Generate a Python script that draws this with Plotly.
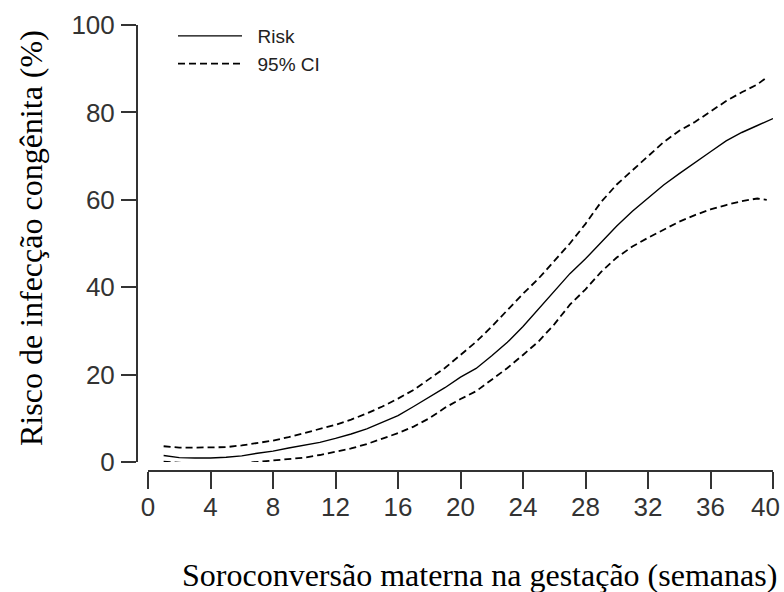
import plotly.graph_objects as go

# ---- data ----
weeks = list(range(1, 41))
risk = [1.5, 1.0, 0.9, 0.9, 1.1, 1.4, 2.0, 2.5, 3.2, 3.8,
        4.5, 5.4, 6.4, 7.6, 9.1, 10.6, 12.7, 14.8, 17.0, 19.4,
        21.4, 24.3, 27.4, 31.0, 35.1, 39.1, 43.1, 46.5, 50.3, 54.0,
        57.4, 60.5, 63.4, 66.0, 68.6, 71.0, 73.5, 75.4, 77.0, 78.6]

ci_weeks = list(range(1, 40)) + [39.6]
ci_upper = [3.6, 3.3, 3.3, 3.3, 3.4, 3.8, 4.3, 4.9, 5.7, 6.6,
            7.5, 8.5, 9.7, 11.1, 12.7, 14.5, 16.5, 19.0, 21.5, 24.5,
            27.5, 31.0, 34.8, 38.5, 42.0, 46.0, 50.0, 54.5, 59.5, 63.5,
            66.8, 70.0, 73.2, 75.8, 77.8, 80.2, 82.6, 84.6, 86.4, 88.0]
ci_lower = [0.1, -0.2, -0.4, -0.5, -0.5, -0.3, 0.0, 0.3, 0.6, 1.0,
            1.6, 2.3, 3.1, 4.1, 5.3, 6.6, 8.1, 10.0, 12.4, 14.4,
            16.2, 18.8, 21.5, 24.5, 27.6, 31.5, 36.0, 39.5, 43.5, 46.8,
            49.3, 51.3, 53.2, 55.0, 56.5, 57.8, 58.8, 59.7, 60.3, 60.0]

x_ticks = list(range(0, 41, 4))
x_tick_labels = [str(v) for v in x_ticks]
y_ticks = [0, 20, 40, 60, 80, 100]
y_tick_labels = [str(v) for v in y_ticks]

legend_risk = "Risk"
legend_ci = "95% CI"
x_title = "Soroconversão materna na gestação (semanas)"
y_title = "Risco de infecção congênita (%)"

# ---- layout geometry (targets in page pixels; body margin removed) ----
W, H = 784, 592
ML, MR, MT, MB = 50, 0, 4, 50
PW, PH = W - ML - MR, H - MT - MB

def px_x(sx):
    return (sx - ML) / PW

def px_y(sy):
    return (H - MB - sy) / PH

sans = "Liberation Sans, Arial, Helvetica, sans-serif"
serif = "Liberation Serif, Times New Roman, serif"
axis_col = "#333333"
tick_font = dict(family=sans, size=26, color="#333333")
NB = "\u00a0\u00a0"

fig = go.Figure()
fig.add_trace(go.Scatter(x=weeks, y=risk, mode="lines", name=NB + legend_risk,
                         line=dict(color="black", width=1.4)))
fig.add_trace(go.Scatter(x=ci_weeks, y=ci_upper, mode="lines", name=NB + legend_ci,
                         line=dict(color="black", width=1.8, dash="7px,4px")))
fig.add_trace(go.Scatter(x=ci_weeks, y=ci_lower, mode="lines", name=legend_ci,
                         showlegend=False,
                         line=dict(color="black", width=1.8, dash="7px,4px")))

fig.update_layout(
    width=W, height=H,
    margin=dict(l=ML, r=MR, t=MT, b=MB, autoexpand=False),
    paper_bgcolor="white", plot_bgcolor="white",
    showlegend=True,
    legend=dict(x=px_x(173), y=px_y(17), xanchor="left", yanchor="top",
                font=dict(family=sans, size=19, color="#222222"),
                itemwidth=64, bgcolor="rgba(0,0,0,0)", tracegroupgap=0),
    xaxis=dict(domain=[px_x(148), px_x(773)], range=[0, 40],
               anchor="free", position=px_y(471), automargin=False,
               tickvals=x_ticks, ticktext=x_tick_labels[:-1] + [""],
               ticks="outside", ticklen=17, tickwidth=2, tickcolor=axis_col,
               ticklabelstandoff=-4, ticklabeloverflow="allow",
               showline=True, linecolor=axis_col, linewidth=2,
               showgrid=False, zeroline=False, tickfont=tick_font),
    yaxis=dict(domain=[px_y(462), px_y(25)], range=[0, 100],
               anchor="free", position=px_x(137), automargin=False,
               tickvals=y_ticks, ticktext=y_tick_labels,
               ticks="outside", ticklen=15, tickwidth=2, tickcolor=axis_col,
               ticklabelstandoff=1, ticklabeloverflow="allow",
               showline=True, linecolor=axis_col, linewidth=2,
               showgrid=False, zeroline=False, tickfont=tick_font),
    annotations=[
        # last x tick label, nudged left of its tick as in the reference
        dict(text=x_tick_labels[-1], xref="x", yref="paper",
             x=x_ticks[-1], y=px_y(507), xanchor="center", yanchor="middle",
             xshift=-8, showarrow=False, font=tick_font),
        dict(text=x_title, xref="paper", yref="paper",
             x=px_x(479), y=px_y(575), xanchor="center", yanchor="middle",
             showarrow=False, font=dict(family=serif, size=32, color="black")),
        dict(text=y_title, xref="paper", yref="paper",
             x=px_x(31), y=px_y(238), xanchor="center", yanchor="middle",
             textangle=-90,
             showarrow=False, font=dict(family=serif, size=32, color="black")),
    ],
)

fig.write_html("out.html", config={"displayModeBar": False},
               post_script="document.body.style.margin='0';")
